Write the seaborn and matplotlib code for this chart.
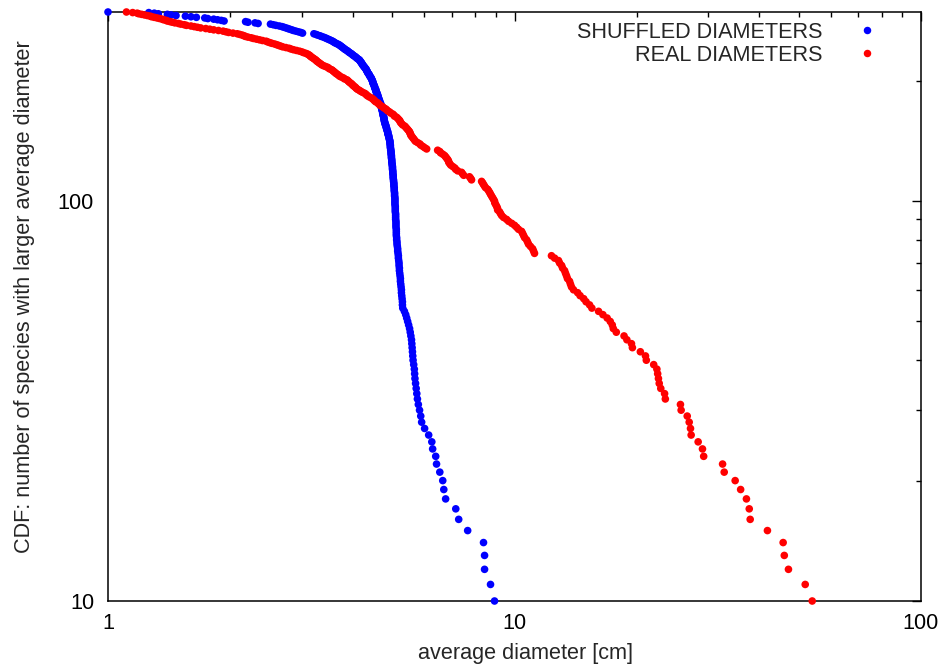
import numpy as np
import pandas as pd
import seaborn as sns
import matplotlib
matplotlib.use("Agg")
import matplotlib.pyplot as plt
from matplotlib.lines import Line2D
from matplotlib.ticker import LogLocator, NullFormatter

# ---- data (average diameters in cm, sorted from largest; the 9 largest species lie below y=10) ----
N_OFFCHART = 9

real_diam = [
    54.0, 51.9, 47.2, 46.1, 45.8, 41.9, 38.0, 37.8, 37.2, 36.0,
    34.9, 32.8, 32.5, 29.2, 29.0, 28.3, 27.2, 27.1, 26.9, 26.6,
    25.7, 25.6, 23.5, 23.4, 22.9, 22.7, 22.6, 22.5, 22.4, 22.0,
    21.1, 21.0, 20.4, 19.5, 19.4, 18.9, 18.6, 17.8, 17.5, 17.4,
    17.2, 16.9, 16.5, 16.1, 15.5, 15.3, 15.0, 14.8, 14.5, 14.3,
    13.97, 13.81, 13.73, 13.66, 13.50, 13.43, 13.35, 13.28, 13.13, 13.06,
    12.91, 12.83, 12.55, 12.33, 11.20, 11.14, 11.08, 10.95, 10.83, 10.77,
    10.71, 10.59, 10.53, 10.47, 10.41, 10.23, 10.12, 10.00, 9.84, 9.67,
    9.56, 9.40, 9.30, 9.24, 9.19, 9.09, 9.08, 9.04, 8.99, 8.94,
    8.93, 8.88, 8.83, 8.78, 8.73, 8.69, 8.64, 8.59, 8.49, 8.44,
    8.39, 8.35, 8.30, 7.84, 7.80, 7.75, 7.50, 7.45, 7.41, 7.25,
    7.17, 7.13, 7.05, 6.97, 6.93, 6.89, 6.88, 6.85, 6.81, 6.77,
    6.73, 6.66, 6.58, 6.55, 6.47, 6.08, 6.01, 5.95, 5.88, 5.85,
    5.78, 5.71, 5.68, 5.65, 5.62, 5.59, 5.56, 5.55, 5.53, 5.52,
    5.49, 5.46, 5.43, 5.40, 5.37, 5.31, 5.28, 5.25, 5.23, 5.22,
    5.19, 5.16, 5.13, 5.07, 5.05, 5.02, 4.96, 4.93, 4.88, 4.85,
    4.82, 4.77, 4.74, 4.69, 4.66, 4.63, 4.61, 4.56, 4.53, 4.51,
    4.48, 4.45, 4.40, 4.36, 4.33, 4.31, 4.28, 4.23, 4.19, 4.16,
    4.12, 4.09, 4.07, 4.05, 4.02, 4.00, 3.98, 3.96, 3.93, 3.91,
    3.89, 3.87, 3.82, 3.80, 3.76, 3.72, 3.70, 3.68, 3.65, 3.63,
    3.61, 3.59, 3.57, 3.55, 3.51, 3.49, 3.47, 3.43, 3.39, 3.36,
    3.34, 3.32, 3.30, 3.28, 3.26, 3.25, 3.23, 3.21, 3.19, 3.17,
    3.15, 3.14, 3.12, 3.10, 3.07, 3.03, 3.00, 2.96, 2.91, 2.86,
    2.82, 2.79, 2.74, 2.69, 2.66, 2.63, 2.60, 2.57, 2.53, 2.50,
    2.47, 2.45, 2.40, 2.36, 2.32, 2.28, 2.25, 2.21, 2.18, 2.16,
    2.14, 2.11, 2.08, 2.03, 1.98, 1.95, 1.92, 1.87, 1.82, 1.78,
    1.74, 1.69, 1.66, 1.63, 1.60, 1.56, 1.54, 1.51, 1.49, 1.46,
    1.44, 1.42, 1.40, 1.39, 1.37, 1.36, 1.34, 1.32, 1.30, 1.28,
    1.27, 1.25, 1.23, 1.21, 1.19, 1.18, 1.15, 1.11,
]

shuffled_diam = [
    8.93, 8.73, 8.44, 8.44, 8.39, 7.67, 7.29, 7.17, 6.77, 6.70,
    6.66, 6.55, 6.43, 6.40, 6.29, 6.26, 6.15, 6.01, 5.91, 5.88,
    5.84, 5.80, 5.77, 5.75, 5.73, 5.71, 5.69, 5.68, 5.67, 5.65,
    5.63, 5.62, 5.61, 5.60, 5.59, 5.58, 5.56, 5.54, 5.52, 5.49,
    5.46, 5.43, 5.40, 5.36, 5.31, 5.30, 5.30, 5.29, 5.28, 5.27,
    5.27, 5.26, 5.25, 5.24, 5.24, 5.23, 5.22, 5.21, 5.21, 5.20,
    5.20, 5.19, 5.18, 5.18, 5.17, 5.16, 5.16, 5.15, 5.14, 5.14,
    5.13, 5.13, 5.12, 5.12, 5.12, 5.12, 5.11, 5.11, 5.11, 5.11,
    5.10, 5.10, 5.10, 5.10, 5.09, 5.09, 5.09, 5.09, 5.08, 5.08,
    5.08, 5.08, 5.08, 5.07, 5.07, 5.07, 5.06, 5.06, 5.06, 5.05,
    5.05, 5.05, 5.04, 5.04, 5.03, 5.03, 5.03, 5.02, 5.02, 5.02,
    5.01, 5.01, 5.01, 5.00, 5.00, 4.99, 4.99, 4.99, 4.98, 4.98,
    4.98, 4.97, 4.97, 4.97, 4.96, 4.96, 4.95, 4.95, 4.95, 4.94,
    4.94, 4.94, 4.93, 4.92, 4.91, 4.91, 4.90, 4.88, 4.88, 4.88,
    4.86, 4.85, 4.85, 4.83, 4.83, 4.82, 4.80, 4.80, 4.79, 4.78,
    4.78, 4.77, 4.77, 4.76, 4.75, 4.75, 4.74, 4.74, 4.73, 4.72,
    4.72, 4.71, 4.70, 4.69, 4.69, 4.69, 4.67, 4.66, 4.66, 4.64,
    4.64, 4.63, 4.62, 4.61, 4.61, 4.59, 4.59, 4.58, 4.56, 4.56,
    4.56, 4.54, 4.53, 4.53, 4.52, 4.51, 4.50, 4.49, 4.48, 4.48,
    4.47, 4.46, 4.45, 4.44, 4.43, 4.41, 4.40, 4.39, 4.38, 4.36,
    4.35, 4.34, 4.33, 4.32, 4.31, 4.29, 4.28, 4.26, 4.25, 4.23,
    4.22, 4.21, 4.20, 4.18, 4.17, 4.16, 4.14, 4.11, 4.09, 4.07,
    4.05, 4.02, 4.00, 3.98, 3.96, 3.93, 3.91, 3.89, 3.87, 3.84,
    3.82, 3.80, 3.78, 3.76, 3.74, 3.72, 3.70, 3.67, 3.64, 3.61,
    3.59, 3.57, 3.54, 3.51, 3.48, 3.45, 3.42, 3.39, 3.35, 3.32,
    3.28, 3.25, 3.21, 3.01, 2.98, 2.94, 2.90, 2.86, 2.83, 2.80,
    2.77, 2.74, 2.71, 2.68, 2.64, 2.59, 2.55, 2.51, 2.34, 2.30,
    2.21, 2.18, 1.93, 1.90, 1.86, 1.82, 1.76, 1.73, 1.65, 1.60,
    1.55, 1.47, 1.43, 1.40, 1.33, 1.30, 1.26, 1.00,
]

series_names = ["SHUFFLED DIAMETERS", "REAL DIAMETERS"]
series_colors = ["#0000ff", "#ff0000"]
x_ticks = [1, 10, 100]
x_tick_labels = ["1", "10", "100"]
y_ticks = [10, 100]
y_tick_labels = ["10", "100"]


def cdf_frame(diams, name):
    d = np.sort(np.asarray(diams, dtype=float))[::-1]
    # number of species with larger (or equal) average diameter
    counts = N_OFFCHART + np.arange(1, len(d) + 1)
    return pd.DataFrame({"diameter": d, "count": counts, "series": name})


df = pd.concat([cdf_frame(shuffled_diam, series_names[0]),
                cdf_frame(real_diam, series_names[1])], ignore_index=True)
y_max = df["count"].max()

sns.set_theme(style="white")
plt.rcParams["font.family"] = ["Liberation Sans", "DejaVu Sans"]
FS = 15.6

fig = plt.figure(figsize=(9.45, 6.68), dpi=100)
ax = fig.add_axes([108 / 945, 1 - 601 / 668, (921 - 108) / 945, (601 - 12) / 668])

sns.scatterplot(data=df, x="diameter", y="count", hue="series",
                hue_order=series_names, palette=series_colors,
                s=30, linewidth=0, legend=False, ax=ax, clip_on=False, zorder=3)

ax.set_xscale("log")
ax.set_yscale("log")
ax.set_xlim(1, 100)
ax.set_ylim(10, y_max)

ax.set_xticks(x_ticks)
ax.set_xticklabels(x_tick_labels)
ax.set_yticks(y_ticks)
ax.set_yticklabels(y_tick_labels)
ax.xaxis.set_minor_locator(LogLocator(base=10, subs=np.arange(2, 10)))
ax.yaxis.set_minor_locator(LogLocator(base=10, subs=np.arange(2, 10)))
ax.xaxis.set_minor_formatter(NullFormatter())
ax.yaxis.set_minor_formatter(NullFormatter())

ax.tick_params(which="both", direction="in", top=True, right=True,
               colors="black", width=1.0, labelsize=FS)
ax.tick_params(which="major", length=6.5)
ax.tick_params(which="minor", length=3.5)
ax.tick_params(axis="x", which="major", pad=8.5)
ax.tick_params(axis="y", which="major", pad=10)

for sp in ax.spines.values():
    sp.set_color("black")
    sp.set_linewidth(1.1)

ax.set_xlabel("average diameter [cm]", fontsize=FS)
ax.set_ylabel("CDF: number of species with larger average diameter", fontsize=FS)
ax.xaxis.set_label_coords(0.513, -0.072)
ax.yaxis.set_label_coords(-0.09, 0.516)

handles = [Line2D([], [], marker="o", linestyle="", markersize=5.4,
                  markerfacecolor=c, markeredgewidth=0) for c in series_colors]
ax.legend(handles, series_names, loc="upper right", bbox_to_anchor=(0.9469, 0.9835),
          frameon=False, markerfirst=False, fontsize=FS, handlelength=1.0,
          handletextpad=1.575, labelspacing=0.1, borderpad=0, borderaxespad=0)

fig.savefig("out.png", dpi=100)
